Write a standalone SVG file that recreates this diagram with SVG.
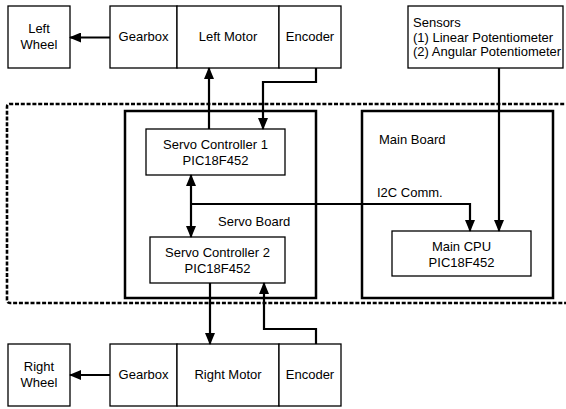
<svg xmlns="http://www.w3.org/2000/svg" width="566" height="409" viewBox="0 0 566 409">
<style>
text{font-family:"Liberation Sans",Arial,sans-serif;font-size:13px;fill:#000}
.c{text-anchor:middle}
.box{fill:#fff;stroke:#000;stroke-width:1.3}
.board{fill:none;stroke:#000;stroke-width:2.5}
.dash{fill:none;stroke:#000;stroke-width:2.6;stroke-dasharray:4 1.8}
.ln{fill:none;stroke:#000;stroke-width:2.2}
</style>
<defs>
<marker id="ah" markerUnits="userSpaceOnUse" markerWidth="12" markerHeight="10" refX="11" refY="5" orient="auto-start-reverse" viewBox="0 0 12 10">
<path d="M0,0 L12,5 L0,10 Z" fill="#000"/>
</marker>
</defs>
<rect width="566" height="409" fill="#fff"/>
<g id="system-boundary"><path class="dash" d="M570,104 H10 Q7,104 7,107 V300 Q7,303 10,303 H570"/></g>
<g id="servo-board"><rect class="board" x="125" y="111" width="191" height="187"/><text x="218" y="226">Servo Board</text></g>
<g id="main-board"><rect class="board" x="362" y="111" width="191" height="187"/><text x="379" y="144">Main Board</text></g>
<g id="left-wheel"><rect class="box" x="8" y="6" width="62" height="62"/><text class="c" x="39" y="33">Left</text><text class="c" x="39" y="49">Wheel</text></g>
<g id="left-gearbox"><rect class="box" x="110" y="6" width="67" height="62"/><text class="c" x="143.5" y="41">Gearbox</text></g>
<g id="left-motor"><rect class="box" x="177" y="6" width="102" height="62"/><text class="c" x="228" y="41">Left Motor</text></g>
<g id="left-encoder"><rect class="box" x="279" y="6" width="62" height="62"/><text class="c" x="310" y="41">Encoder</text></g>
<g id="sensors"><rect class="box" x="408" y="6" width="155" height="62"/><text x="413" y="27">Sensors</text><text x="413" y="41.5">(1) Linear Potentiometer</text><text x="413" y="56">(2) Angular Potentiometer</text></g>
<g id="servo-controller-1"><rect class="box" x="146" y="129" width="139" height="46"/><text class="c" x="215.5" y="149">Servo Controller 1</text><text class="c" x="215.5" y="164.5">PIC18F452</text></g>
<g id="servo-controller-2"><rect class="box" x="150" y="237" width="135" height="46"/><text class="c" x="217.5" y="256.5">Servo Controller 2</text><text class="c" x="217.5" y="272.5">PIC18F452</text></g>
<g id="main-cpu"><rect class="box" x="392" y="231" width="139" height="45"/><text class="c" x="461.5" y="251">Main CPU</text><text class="c" x="461.5" y="266.5">PIC18F452</text></g>
<g id="right-wheel"><rect class="box" x="8" y="344" width="62" height="62"/><text class="c" x="39" y="371">Right</text><text class="c" x="39" y="387">Wheel</text></g>
<g id="right-gearbox"><rect class="box" x="110" y="344" width="67" height="62"/><text class="c" x="143.5" y="379">Gearbox</text></g>
<g id="right-motor"><rect class="box" x="177" y="344" width="102" height="62"/><text class="c" x="228" y="379">Right Motor</text></g>
<g id="right-encoder"><rect class="box" x="279" y="344" width="62" height="62"/><text class="c" x="310" y="379">Encoder</text></g>
<g id="connectors">
<path class="ln" d="M110,37.5 H70" marker-end="url(#ah)"/>
<path class="ln" d="M209,129 V68" marker-end="url(#ah)"/>
<path class="ln" d="M316,68 V82 H263 V129" marker-end="url(#ah)"/>
<path class="ln" d="M499,68 V231" marker-end="url(#ah)"/>
<path class="ln" d="M191,175 V237" marker-start="url(#ah)" marker-end="url(#ah)"/>
<path class="ln" d="M191,204 H470 V231" marker-end="url(#ah)"/>
<text x="377" y="196.5">I2C Comm.</text>
<path class="ln" d="M210,283 V344" marker-end="url(#ah)"/>
<path class="ln" d="M316,344 V329 H264 V283" marker-end="url(#ah)"/>
<path class="ln" d="M110,375 H70" marker-end="url(#ah)"/>
</g>
</svg>
